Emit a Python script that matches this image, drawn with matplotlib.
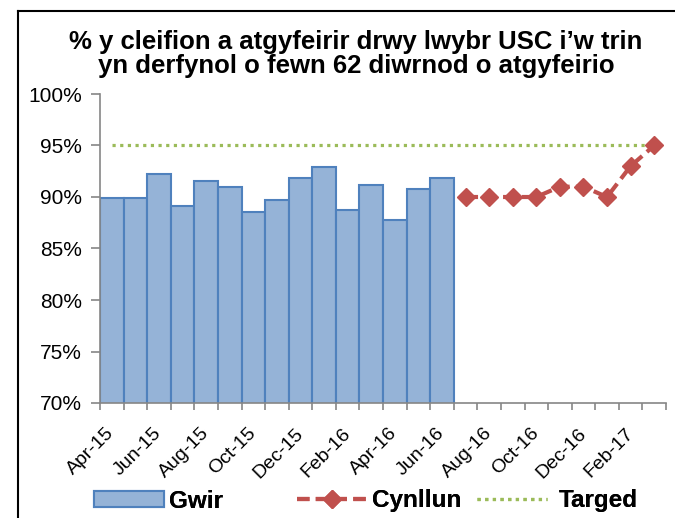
import matplotlib.pyplot as plt
from matplotlib.lines import Line2D
from matplotlib.patches import Patch
import matplotlib.transforms as mtransforms

plt.rcParams['font.family'] = ['Liberation Sans', 'DejaVu Sans']

months = ['Apr-15', 'May-15', 'Jun-15', 'Jul-15', 'Aug-15', 'Sep-15', 'Oct-15', 'Nov-15',
          'Dec-15', 'Jan-16', 'Feb-16', 'Mar-16', 'Apr-16', 'May-16', 'Jun-16', 'Jul-16',
          'Aug-16', 'Sep-16', 'Oct-16', 'Nov-16', 'Dec-16', 'Jan-17', 'Feb-17', 'Mar-17']
gwir = [89.9, 89.9, 92.2, 89.1, 91.6, 91.0, 88.5, 89.7, 91.8, 92.9, 88.7, 91.2, 87.8, 90.8, 91.8]
cynllun = [90, 90, 90, 90, 91, 91, 90, 93, 95]
targed = [95] * len(months)

title = "% y cleifion a atgyfeirir drwy lwybr USC i\u2019w trin\nyn derfynol o fewn 62 diwrnod o atgyfeirio"

BAR_FILL = '#95b3d7'
BAR_EDGE = '#4f81bd'
RED = '#c0504d'
GREEN = '#9bbb59'
AXIS = '#868686'

fig = plt.figure(figsize=(6.75, 5.18), dpi=100)
ax = fig.add_axes([100 / 675, 1 - 403 / 518, 566 / 675, 309 / 518])

x = list(range(len(months)))
ax.bar(x[:len(gwir)], gwir, width=1.0, color=BAR_FILL, edgecolor=BAR_EDGE, linewidth=1.5, zorder=2)
dash = (0, (3, 1.5))
dots = (0, (1, 1.4))
ax.plot(x[len(gwir):], cynllun, color=RED, linestyle=dash, linewidth=3,
        marker='D', markersize=9, zorder=3)
ax.plot(x, targed, color=GREEN, linestyle=dots, linewidth=2.3, zorder=1)

ax.set_xlim(-0.5, len(months) - 0.5)
ax.set_ylim(70, 100)
ax.set_yticks(range(70, 101, 5))
ax.set_yticklabels([f'{v}%' for v in range(70, 101, 5)], fontsize=15)

ax.set_xticks(x[::2])
ax.set_xticklabels(months[::2], rotation=45, ha='right', va='center', rotation_mode='anchor',
                   fontsize=14)
shift = mtransforms.ScaledTranslation(5 / 100, 0, fig.dpi_scale_trans)
for lab in ax.get_xticklabels():
    lab.set_transform(lab.get_transform() + shift)
ax.set_xticks([i - 0.5 for i in range(len(months) + 1)], minor=True)
ax.tick_params(axis='x', which='major', length=0, pad=20)
ax.tick_params(axis='x', which='minor', length=5, color=AXIS, width=1.2)
ax.tick_params(axis='y', length=6.5, color=AXIS, width=1.2, pad=6.5)

for s in ['top', 'right']:
    ax.spines[s].set_visible(False)
for s in ['left', 'bottom']:
    ax.spines[s].set_color(AXIS)
    ax.spines[s].set_linewidth(1.2)

fig.text(356 / 675, 1 - 54 / 518, title, ha='center', va='center', fontsize=18.5,
         fontweight='bold', linespacing=0.98)

# legend: three entries spaced as in the original
entries = [
    (Patch(facecolor=BAR_FILL, edgecolor=BAR_EDGE, linewidth=1.5), 'Gwir', 94, 0.17),
    (Line2D([], [], color=RED, linestyle=dash, linewidth=3, marker='D', markersize=9), 'Cynllun', 297, 0.17),
    (Line2D([], [], color=GREEN, linestyle=dots, linewidth=2.3), 'Targed', 477, 0.45),
]
for h, lab, px, pad in entries:
    leg = fig.legend([h], [lab], loc='center left', bbox_to_anchor=(px / 675, 1 - 501 / 518),
                     frameon=False, prop={'weight': 'bold', 'size': 17.5}, handlelength=2.9,
                     handleheight=0.6, handletextpad=pad, borderpad=0, borderaxespad=0)
    fig.add_artist(leg)

fig.add_artist(Line2D([18 / 675, 18 / 675], [0, 1 - 11 / 518], color='black', linewidth=1.5))
fig.add_artist(Line2D([18 / 675, 1], [1 - 11 / 518, 1 - 11 / 518], color='black', linewidth=1.5))

fig.savefig('out.png', dpi=100)
